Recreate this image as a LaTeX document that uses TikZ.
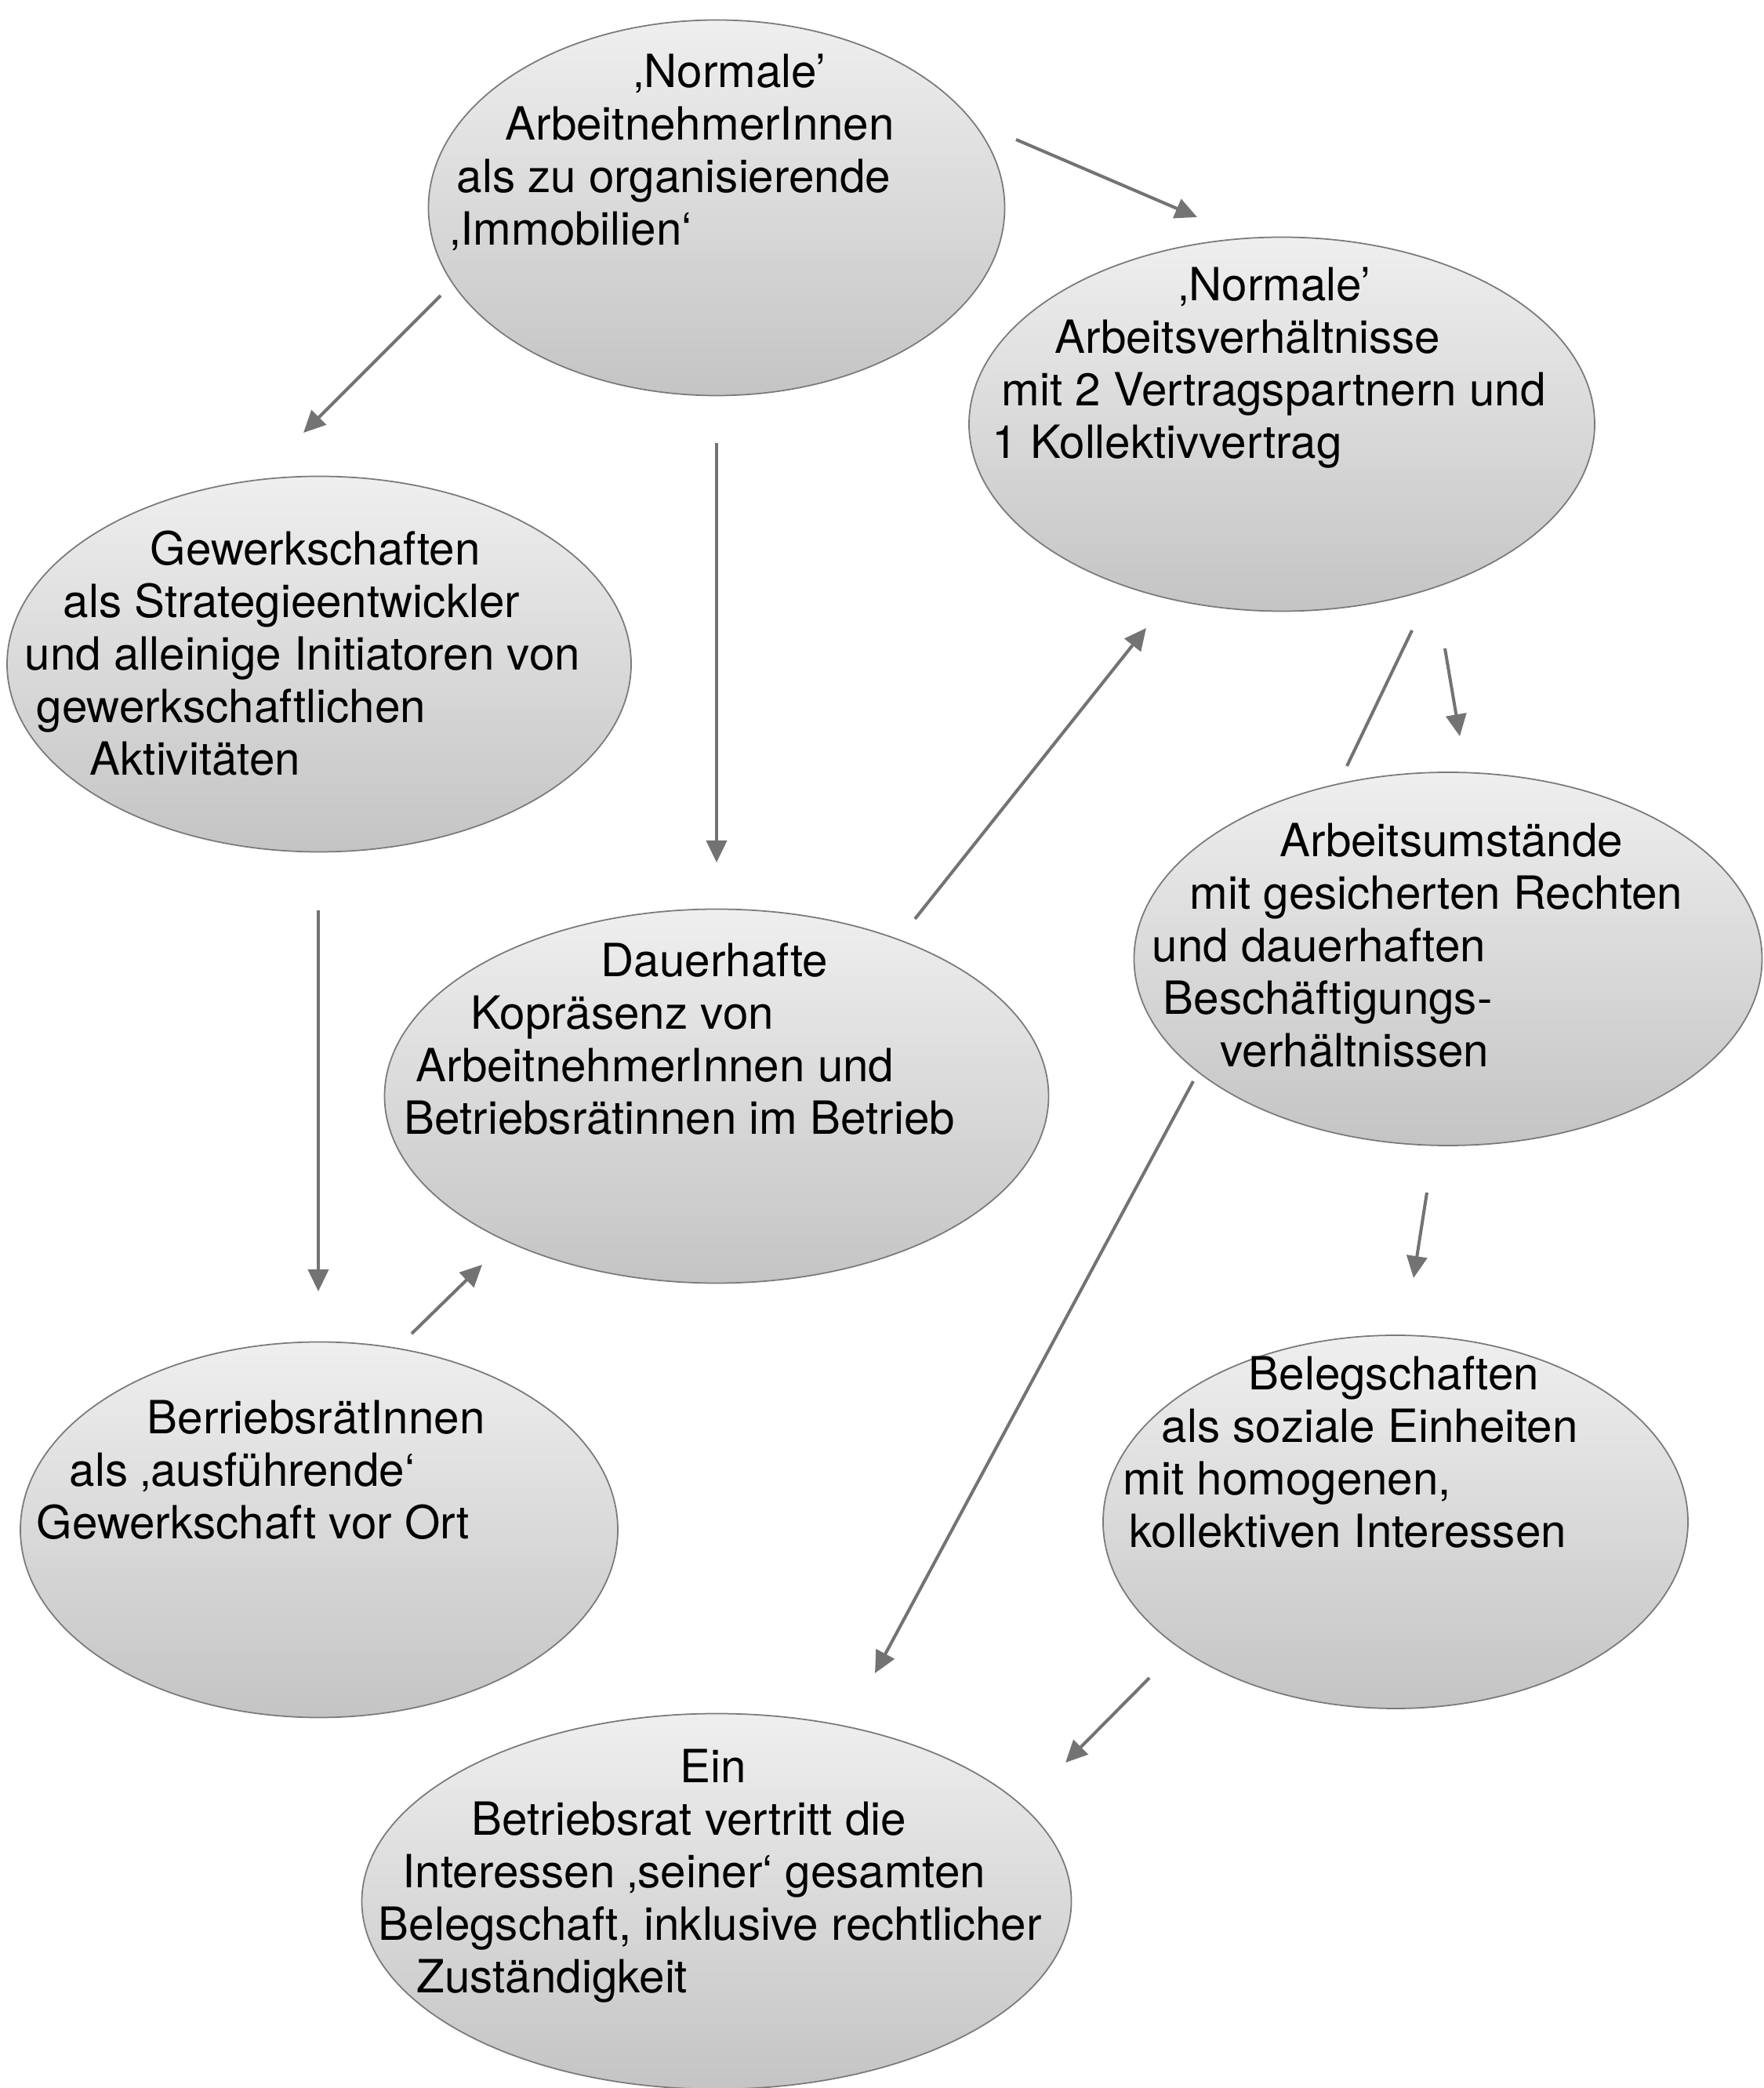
\documentclass[tikz,border=0pt]{standalone}
\usepackage{fontspec}
\setmainfont{TeX Gyre Heros}
\usetikzlibrary{arrows.meta, shapes.geometric}
\definecolor{bubbleline}{HTML}{7A7A7A}
\definecolor{bubbletop}{HTML}{EFEFEF}
\definecolor{bubblebot}{HTML}{C4C4C4}
\definecolor{arrowgray}{HTML}{737373}
\tikzset{
  >={Triangle[length=0.28cm, width=0.26cm]},
  bubble/.style={ellipse, draw=bubbleline, line width=0.5pt,
    top color=bubbletop, bottom color=bubblebot, inner sep=0pt},
  txt/.style={align=left, anchor=north west, inner sep=0pt,
    font=\fontsize{16.6}{19.1}\selectfont},
  conn/.style={->, arrowgray, line width=1.15pt},
  link/.style={arrowgray, line width=1.15pt},
}

\begin{document}
\begin{tikzpicture}
  \useasboundingbox (0,0) rectangle (22.5,26.63);
  % ---------- bubbles
  \node[bubble, minimum width=7.35cm, minimum height=4.79cm] (arbn)  at (9.14,23.98) {};
  \node[bubble, minimum width=7.98cm, minimum height=4.77cm] (verh)  at (16.35,21.22) {};
  \node[bubble, minimum width=7.96cm, minimum height=4.79cm] (gew)   at (4.07,18.16) {};
  \node[bubble, minimum width=8.47cm, minimum height=4.77cm] (kopr)  at (9.14,12.65) {};
  \node[bubble, minimum width=8.01cm, minimum height=4.76cm] (umst)  at (18.47,14.40) {};
  \node[bubble, minimum width=7.62cm, minimum height=4.79cm] (br)    at (4.07,7.12) {};
  \node[bubble, minimum width=7.46cm, minimum height=4.76cm] (beleg) at (17.80,7.22) {};
  \node[bubble, minimum width=9.05cm, minimum height=4.79cm] (ein)   at (9.14,2.38) {};
  % ---------- texts (upper part of each bubble, ragged indents)
  \node[txt] (arbn-t) at (5.74,25.95)
    {\hspace*{2.34cm}‚Normale’\\ \hspace*{0.70cm}ArbeitnehmerInnen\\ \hspace*{0.08cm}als zu organisierende\\ ‚Immobilien‘};
  \node[txt] (verh-t) at (12.65,23.23)
    {\hspace*{2.38cm}‚Normale’\\ \hspace*{0.80cm}Arbeitsverhältnisse\\ \hspace*{0.12cm}mit 2 Vertragspartnern und\\ 1 Kollektivvertrag};
  \node[txt] (gew-t) at (0.31,19.87)
    {\hspace*{1.60cm}Gewerkschaften\\ \hspace*{0.49cm}als Strategieentwickler\\ und alleinige Initiatoren von\\ \hspace*{0.15cm}gewerkschaftlichen\\ \hspace*{0.83cm}Aktivitäten};
  \node[txt] (kopr-t) at (5.15,14.61)
    {\hspace*{2.51cm}Dauerhafte\\ \hspace*{0.85cm}Kopräsenz von\\ \hspace*{0.15cm}ArbeitnehmerInnen und\\ Betriebsrätinnen im Betrieb};
  \node[txt] (umst-t) at (14.69,16.14)
    {\hspace*{1.63cm}Arbeitsumstände\\ \hspace*{0.48cm}mit gesicherten Rechten\\ und dauerhaften\\ \hspace*{0.14cm}Beschäftigungs-\\ \hspace*{0.87cm}verhältnissen};
  \node[txt] (br-t) at (0.46,8.78)
    {\hspace*{1.41cm}BerriebsrätInnen\\ \hspace*{0.42cm}als ‚ausführende‘\\ Gewerkschaft vor Ort};
  \node[txt] (beleg-t) at (14.32,9.34)
    {\hspace*{1.60cm}Belegschaften\\ \hspace*{0.49cm}als soziale Einheiten\\ mit homogenen,\\ \hspace*{0.08cm}kollektiven Interessen};
  \node[txt] (ein-t) at (4.82,4.33)
    {\hspace*{3.85cm}Ein\\ \hspace*{1.19cm}Betriebsrat vertritt die\\ \hspace*{0.31cm}Interessen ‚seiner‘ gesamten\\ Belegschaft, inklusive rechtlicher\\ \hspace*{0.49cm}Zuständigkeit};
  % ---------- connector ends (they float in the gaps between bubbles)
  \coordinate (a1) at (12.96,24.85);  \coordinate (a2) at (15.27,23.86);
  \coordinate (b1) at (5.62,22.86);   \coordinate (b2) at (3.87,21.11);
  \coordinate (c1) at (9.14,20.98);   \coordinate (c2) at (9.14,15.63);
  \coordinate (d1) at (4.06,15.02);   \coordinate (d2) at (4.06,10.16);
  \coordinate (e1) at (5.25,9.62);    \coordinate (e2) at (6.15,10.50);
  \coordinate (f1) at (11.67,14.91);  \coordinate (f2) at (14.62,18.62);
  \coordinate (g1) at (18.01,18.59);  \coordinate (g2) at (17.18,16.86);
  \coordinate (h1) at (18.43,18.36);  \coordinate (h2) at (18.62,17.24);
  \coordinate (i1) at (15.22,12.84);  \coordinate (i2) at (11.16,5.29);
  \coordinate (j1) at (18.20,11.42);  \coordinate (j2) at (18.03,10.33);
  \coordinate (k1) at (14.66,5.23);   \coordinate (k2) at (13.59,4.15);
  \foreach \p in {a,b,c,d,e,f,h,i,j,k}
    \draw[conn] (\p1) -- (\p2);
  \draw[link] (g1) -- (g2);
\end{tikzpicture}
\end{document}
